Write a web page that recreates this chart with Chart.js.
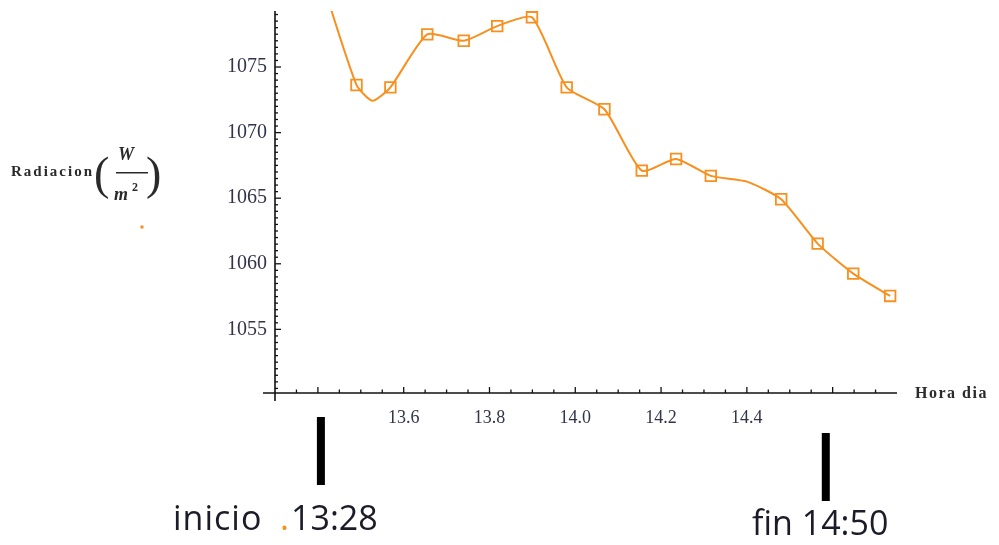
<!DOCTYPE html>
<html><head><meta charset="utf-8">
<script src="https://cdn.jsdelivr.net/npm/chart.js@4.4.1/dist/chart.umd.min.js"></script>
<style>html,body{margin:0;padding:0;background:#fff;overflow:hidden}canvas{display:block}</style>
</head><body><canvas id="c" width="999" height="545"></canvas>
<script>
// ---- data ----
const hora      = [13.41, 13.490, 13.527, 13.569, 13.655, 13.740, 13.818, 13.899, 13.980, 14.068, 14.155, 14.235, 14.316, 14.400, 14.480, 14.565, 14.648, 14.734];
const radiacion = [1081.5, 1073.63, 1072.43, 1073.45, 1077.49, 1077.00, 1078.12, 1078.79, 1073.45, 1071.78, 1067.10, 1067.99, 1066.70, 1066.26, 1064.92, 1061.54, 1059.25, 1057.55];
const conMarca  = [false, true, false, true, true, true, true, true, true, true, true, true, true, false, true, true, true, true];
const xTickValues = [13.6, 13.8, 14.0, 14.2, 14.4];
const xTickLabels = ['13.6', '13.8', '14.0', '14.2', '14.4'];
const yTickValues = [1055, 1060, 1065, 1070, 1075];
const yTickLabels = ['1055', '1060', '1065', '1070', '1075'];
const eventos = [13.407, 14.584];          // x-values of the "inicio" / "fin" bars
const eventoTextos = ['inicio', 'fin 14:50'];

const ORANGE = '#f7901e';
const X_MIN = 13.3, X_MAX = 14.75, Y_MIN = 1050.15, Y_MAX = 1079.27;

const axesPlugin = {
  id: 'mathAxes',
  beforeDatasetsDraw(chart) {
    const { ctx, scales: { x, y } } = chart;
    const x0 = x.getPixelForValue(X_MIN);
    const y0 = y.getPixelForValue(Y_MIN);
    ctx.save();
    ctx.strokeStyle = '#111';
    ctx.lineWidth = 1.6;
    ctx.beginPath(); ctx.moveTo(x0 - 12, y0); ctx.lineTo(x.right, y0); ctx.stroke();
    ctx.beginPath(); ctx.moveTo(x0, y.top); ctx.lineTo(x0, y0 + 8); ctx.stroke();
    ctx.lineWidth = 1.3;
    for (let k = 267; k <= 294; k++) {
      const v = k / 20;
      const major = (k % 4) === 0;
      const p = x.getPixelForValue(v);
      ctx.beginPath(); ctx.moveTo(p, y0); ctx.lineTo(p, y0 - (major ? 6 : 3.5)); ctx.stroke();
    }
    for (let k = 2101; k <= 2158; k++) {
      const v = k / 2;
      const major = (k % 10) === 0;
      const p = y.getPixelForValue(v);
      ctx.beginPath(); ctx.moveTo(x0, p); ctx.lineTo(x0 + (major ? 6 : 3), p); ctx.stroke();
    }
    ctx.restore();
  },
  afterDraw(chart) {
    const { ctx, scales: { x } } = chart;
    ctx.save();
    // y-axis title
    ctx.fillStyle = '#2a2a2a';
    ctx.textBaseline = 'alphabetic';
    ctx.font = 'bold 15px "Liberation Serif"';
    ctx.letterSpacing = '2px';
    ctx.fillText('Radiacion', 11, 176);
    ctx.letterSpacing = '0px';
    ctx.font = '46px "Liberation Serif"';
    ctx.fillText('(', 94, 189);
    ctx.fillText(')', 146, 189);
    ctx.font = 'italic bold 18px "Liberation Serif"';
    ctx.fillText('W', 118, 160);
    ctx.fillText('m', 114, 200);
    ctx.font = 'bold 12px "Liberation Serif"';
    ctx.fillText('2', 132, 191);
    ctx.fillRect(116, 172, 32, 1.5);
    ctx.fillStyle = ORANGE;
    ctx.fillRect(140.5, 225.5, 3, 3);
    // x-axis title
    ctx.fillStyle = '#2a2a2a';
    ctx.font = 'bold 16px "Liberation Serif"';
    ctx.letterSpacing = '1.5px';
    ctx.textBaseline = 'middle';
    ctx.fillText('Hora dia', 915, 394);
    ctx.letterSpacing = '0px';
    // event bars
    ctx.fillStyle = '#000';
    const p1 = x.getPixelForValue(eventos[0]);
    const p2 = x.getPixelForValue(eventos[1]);
    ctx.fillRect(p1 - 4, 417, 8, 68);
    ctx.fillRect(p2 - 4, 433, 8, 68);
    // event texts
    ctx.textBaseline = 'alphabetic';
    ctx.font = '34px "Open Sans"';
    ctx.fillStyle = '#1c1c28';
    ctx.letterSpacing = '1px';
    ctx.fillText(eventoTextos[0], 173, 530);
    ctx.letterSpacing = '0px';
    ctx.fillStyle = ORANGE;
    ctx.fillText('.', 280, 530);
    ctx.fillStyle = '#1c1c28';
    ctx.fillText('13:28', 291, 530);
    ctx.fillText(eventoTextos[1], 752, 535);
    ctx.restore();
  }
};

new Chart(document.getElementById('c'), {
  type: 'line',
  data: {
    datasets: [{
      data: hora.map((h, i) => ({ x: h, y: radiacion[i] })),
      borderColor: ORANGE,
      borderWidth: 2,
      tension: 0.2,
      pointStyle: 'rect',
      pointRadius: ctx => conMarca[ctx.dataIndex] ? 7.5 : 0,
      pointBorderWidth: 1.8,
      pointBorderColor: ORANGE,
      pointBackgroundColor: 'rgba(255,255,255,0)',
      clip: 0
    }]
  },
  options: {
    responsive: false,
    animation: false,
    events: [],
    layout: { padding: { left: 0, top: 11, right: 102, bottom: 0 } },
    plugins: { legend: { display: false }, tooltip: { enabled: false } },
    scales: {
      x: {
        type: 'linear', min: X_MIN, max: X_MAX,
        grid: { display: false, drawTicks: false },
        border: { display: false },
        afterBuildTicks: s => { s.ticks = xTickValues.map(v => ({ value: v })); },
        afterFit: s => { s.height = 152; s.paddingLeft = 0; s.paddingRight = 0; },
        ticks: {
          autoSkip: false, maxRotation: 0, padding: 14,
          color: '#33334a',
          font: { family: '"Liberation Serif"', size: 18 },
          callback: (v, i) => xTickLabels[i]
        }
      },
      y: {
        type: 'linear', min: Y_MIN, max: Y_MAX,
        grid: { display: false, drawTicks: false },
        border: { display: false },
        afterBuildTicks: s => { s.ticks = yTickValues.map(v => ({ value: v })); },
        afterFit: s => { s.width = 275; s.paddingTop = 0; s.paddingBottom = 0; },
        ticks: {
          autoSkip: false, padding: 8,
          color: '#33334a',
          font: { family: '"Liberation Serif"', size: 20 },
          callback: (v, i) => yTickLabels[i]
        }
      }
    }
  },
  plugins: [axesPlugin]
});
</script></body></html>
